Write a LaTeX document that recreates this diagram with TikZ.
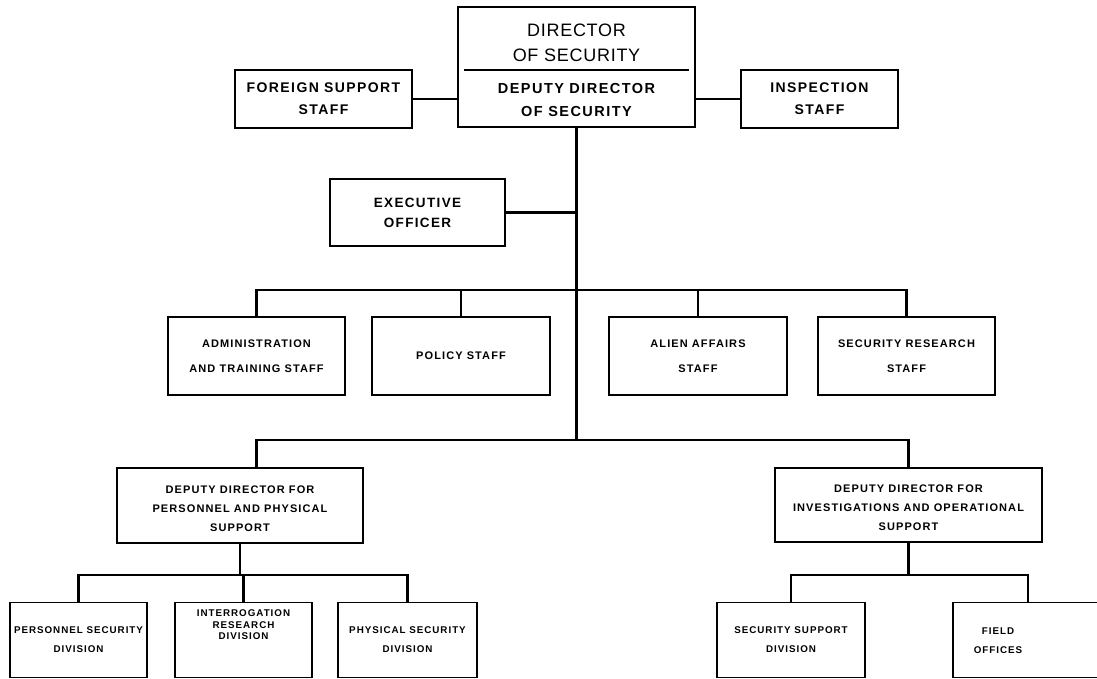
\documentclass[tikz,border=0pt]{standalone}
\usepackage{fontspec}
\setmainfont{Liberation Sans}
\newfontfamily\labfont{Liberation Sans}[LetterSpace=10]
\newfontfamily\headfont{Liberation Sans}[LetterSpace=4]
\usetikzlibrary{calc}

\tikzset{
  orgbox/.style={draw, line width=1.8pt, inner sep=0pt, align=center},
  link/.style={line width=2.8pt},
  plaintxt/.style={align=center, inner sep=0pt},
  headtxt/.style={plaintxt, font=\headfont\fontsize{18}{25}\selectfont},
  txtA/.style={font=\labfont\bfseries\fontsize{14}{22}\selectfont},
  txtE/.style={font=\labfont\bfseries\fontsize{13.5}{20}\selectfont},
  txtB/.style={font=\labfont\bfseries\fontsize{11}{25}\selectfont},
  txtC/.style={font=\labfont\bfseries\fontsize{11}{19}\selectfont},
  txtD/.style={font=\labfont\bfseries\fontsize{9.8}{19}\selectfont},
  txtDt/.style={font=\labfont\bfseries\fontsize{9.8}{11.5}\selectfont},
}

\begin{document}
\begin{tikzpicture}[x=1pt, y=-1pt]
\useasboundingbox (0,0) rectangle (1097,679);
\clip (0,0) rectangle (1097,679);

% top of the chart: director box with its deputy section
\node[orgbox, minimum width=237pt, minimum height=120pt] (dir) at (576.5,67) {};
\node[headtxt] (dirtitle) at (576.5,43) {DIRECTOR\\OF SECURITY};
\node[plaintxt, font=\labfont\bfseries\fontsize{14.5}{23}\selectfont] (ddir) at (576.5,100) {DEPUTY DIRECTOR\\OF SECURITY};
\draw[line width=1.5pt] ($(dir.north west)+(7,64)$) -- ($(dir.north east)+(-7,64)$);

\node[orgbox, txtA, minimum width=177pt, minimum height=58pt] (foreign) at (323.5,99) {FOREIGN SUPPORT\\STAFF};
\node[orgbox, txtA, minimum width=157pt, minimum height=58pt] (inspect) at (819.5,99) {INSPECTION\\STAFF};
\node[orgbox, txtE, minimum width=175pt, minimum height=67pt] (exec) at (417.5,212.5) {EXECUTIVE\\OFFICER};

% staff row
\node[orgbox, txtB, minimum width=177pt, minimum height=78pt] (admin) at (256.5,356) {ADMINISTRATION\\AND TRAINING STAFF};
\node[orgbox, txtB, minimum width=178pt, minimum height=78pt] (policy) at (461,356) {POLICY STAFF};
\node[orgbox, txtB, minimum width=178pt, minimum height=78pt] (alien) at (698,356) {ALIEN AFFAIRS\\STAFF};
\node[orgbox, txtB, minimum width=177pt, minimum height=78pt] (secres) at (906.5,356) {SECURITY RESEARCH\\STAFF};

% deputy directors
\node[orgbox, minimum width=246pt, minimum height=75pt] (dd1) at (240,505.5) {};
\node[plaintxt, txtC] (dd1text) at (240,509) {DEPUTY DIRECTOR FOR\\PERSONNEL AND PHYSICAL\\SUPPORT};
\node[orgbox, minimum width=267pt, minimum height=74pt] (dd2) at (908.5,505) {};
\node[plaintxt, txtC] (dd2text) at (908.5,508) {DEPUTY DIRECTOR FOR\\INVESTIGATIONS AND OPERATIONAL\\SUPPORT};

% divisions and offices
\node[orgbox, txtD, minimum width=137pt, minimum height=75pt] (psd) at (78.5,640) {PERSONNEL SECURITY\\DIVISION};
\node[orgbox, minimum width=137pt, minimum height=75pt] (ird) at (243.5,640) {};
\node[plaintxt, txtDt] (irdtext) at (243.5,625) {INTERROGATION\\RESEARCH\\DIVISION};
\node[orgbox, txtD, minimum width=139pt, minimum height=75pt] (phsd) at (407.5,640) {PHYSICAL SECURITY\\DIVISION};
\node[orgbox, txtD, minimum width=148pt, minimum height=75pt] (ssd) at (791,640) {SECURITY SUPPORT\\DIVISION};
\node[orgbox, minimum width=150pt, minimum height=75pt] (fo) at (1028,640) {};
\node[plaintxt, txtD] (fotext) at (998,641) {FIELD\\OFFICES};

% bus levels
\coordinate (staffbus) at (0,290);
\coordinate (lowbus) at (0,440);
\coordinate (divbus) at (0,575);

% connectors
\draw[link] (foreign.east) -- (foreign.east -| dir.west);
\draw[link] (inspect.west) -- (inspect.west -| dir.east);
\draw[link] (dir.south) -- (dir.south |- lowbus);
\draw[link] (exec.east) -- (exec.east -| dir.south);

\draw[link] (admin.north) -- (admin.north |- staffbus) -- (secres.north |- staffbus) -- (secres.north);
\draw[link] (policy.north) -- (policy.north |- staffbus);
\draw[link] (alien.north) -- (alien.north |- staffbus);

\draw[link] (admin.north |- dd1.north) -- (admin.north |- lowbus) -- (dd2.north |- lowbus) -- (dd2.north);

\draw[link] (dd1.south) -- (dd1.south |- divbus);
\draw[link] (psd.north) -- (psd.north |- divbus) -- (phsd.north |- divbus) -- (phsd.north);
\draw[link] (ird.north) -- (ird.north |- divbus);

\draw[link] (dd2.south) -- (dd2.south |- divbus);
\draw[link] (ssd.north) -- (ssd.north |- divbus) -- (fo.north |- divbus) -- (fo.north);
\end{tikzpicture}
\end{document}
